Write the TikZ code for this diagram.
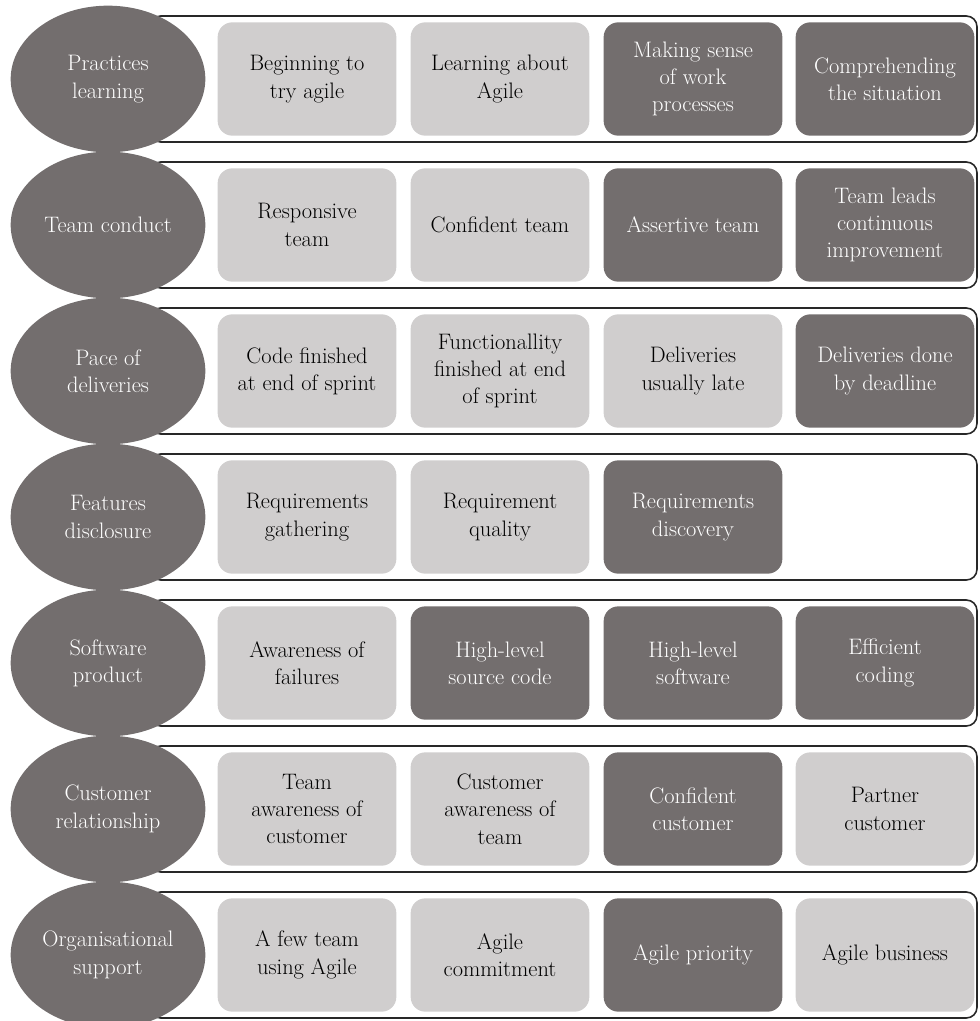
\documentclass[tikz,border=0pt]{standalone}
\usetikzlibrary{shapes.geometric}
\definecolor{darkfill}{RGB}{115,110,110}
\definecolor{lightfill}{RGB}{208,206,206}
\definecolor{framecol}{RGB}{40,40,40}
\tikzset{
  txt/.style={font=\fontsize{16.8}{20.5}\selectfont, align=center},
  stage/.style={ellipse, fill=darkfill, minimum width=146pt, minimum height=110pt,
                inner sep=0pt, txt, text=white},
  lightbox/.style={rectangle, rounded corners=11pt, fill=lightfill, minimum width=134pt,
                   minimum height=85pt, inner sep=0pt, txt, text=black},
  darkbox/.style={rectangle, rounded corners=11pt, fill=darkfill, minimum width=134pt,
                  minimum height=85pt, inner sep=0pt, txt, text=white},
  rowframe/.style={draw=framecol, line width=1.2pt, rounded corners=8pt},
}
\begin{document}
\begin{tikzpicture}[x=0.75pt,y=-0.75pt]
\useasboundingbox (0,0) rectangle (979,1021);
% row frames (tops every 146px, height 126px)
\foreach \t in {16,162,308,454,600,746,892}
  \draw[rowframe] (150,\t) rectangle (977,\t+126);

% row 1
\node[stage] (e1) at (108,79) {Practices\\learning};
\node[lightbox] (b11) at (307,79) {Beginning to\\try agile};
\node[lightbox] (b12) at (500,79) {Learning about\\Agile};
\node[darkbox]  (b13) at (693,79) {Making sense\\of work\\processes};
\node[darkbox]  (b14) at (885,79) {Comprehending\\the situation};

% row 2
\node[stage] (e2) at (108,225) {Team conduct};
\node[lightbox] (b21) at (307,225) {Responsive\\team};
\node[lightbox] (b22) at (500,225) {Confident team};
\node[darkbox]  (b23) at (693,225) {Assertive team};
\node[darkbox]  (b24) at (885,225) {Team leads\\continuous\\improvement};

% row 3
\node[stage] (e3) at (108,371) {Pace of\\deliveries};
\node[lightbox] (b31) at (307,371) {Code finished\\at end of sprint};
\node[lightbox] (b32) at (500,371) {Functionallity\\finished at end\\of sprint};
\node[lightbox] (b33) at (693,371) {Deliveries\\usually late};
\node[darkbox]  (b34) at (885,371) {Deliveries done\\by deadline};

% row 4
\node[stage] (e4) at (108,517) {Features\\disclosure};
\node[lightbox] (b41) at (307,517) {Requirements\\gathering};
\node[lightbox] (b42) at (500,517) {Requirement\\quality};
\node[darkbox]  (b43) at (693,517) {Requirements\\discovery};

% row 5
\node[stage] (e5) at (108,663) {Software\\product};
\node[lightbox] (b51) at (307,663) {Awareness of\\failures};
\node[darkbox]  (b52) at (500,663) {High-level\\source code};
\node[darkbox]  (b53) at (693,663) {High-level\\software};
\node[darkbox]  (b54) at (885,663) {Efficient\\coding};

% row 6
\node[stage] (e6) at (108,809) {Customer\\relationship};
\node[lightbox] (b61) at (307,809) {Team\\awareness of\\customer};
\node[lightbox] (b62) at (500,809) {Customer\\awareness of\\team};
\node[darkbox]  (b63) at (693,809) {Confident\\customer};
\node[lightbox] (b64) at (885,809) {Partner\\customer};

% row 7
\node[stage] (e7) at (108,955) {Organisational\\support};
\node[lightbox] (b71) at (307,955) {A few team\\using Agile};
\node[lightbox] (b72) at (500,955) {Agile\\commitment};
\node[darkbox]  (b73) at (693,955) {Agile priority};
\node[lightbox] (b74) at (885,955) {Agile business};
\end{tikzpicture}
\end{document}
